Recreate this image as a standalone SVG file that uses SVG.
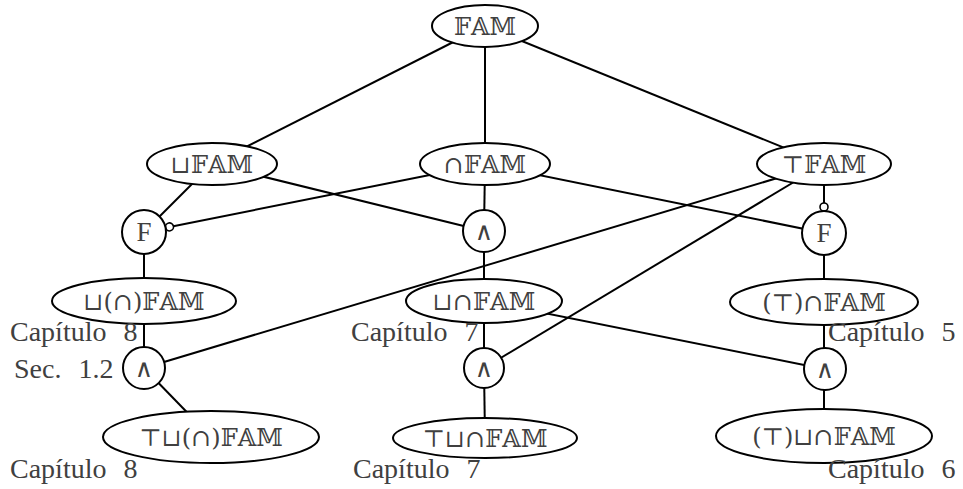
<svg xmlns="http://www.w3.org/2000/svg" width="963" height="489" viewBox="0 0 963 489">
<style>
.n ellipse, .n circle { fill: #fff; stroke: #000; stroke-width: 2; }
.lbl { font-family: "DejaVu Serif", "DejaVu Sans", serif; font-size: 24px; fill: #404040; text-anchor: middle; }
.f { font-family: "Liberation Serif", serif; font-size: 27px; }
.w { font-size: 25px; }
.cap { font-family: "Liberation Serif", serif; font-size: 28px; fill: #404040; word-spacing: 10px; }
.c line { stroke: #000; stroke-width: 2; fill: none; }
</style>
<defs>
<marker id="dot" markerUnits="userSpaceOnUse" markerWidth="12" markerHeight="12" refX="6" refY="6" orient="auto">
<circle cx="6" cy="6" r="4" fill="#fff" stroke="#000" stroke-width="1.6"/>
</marker>
</defs>
<g id="connectors" class="c">
<line x1="485" y1="26" x2="212" y2="164"/>
<line x1="485" y1="26" x2="485" y2="164"/>
<line x1="485" y1="26" x2="824" y2="164"/>
<line x1="212" y1="164" x2="144" y2="232"/>
<line x1="212" y1="164" x2="484" y2="231"/>
<line x1="485" y1="164" x2="169.5" y2="226.9" marker-end="url(#dot)"/>
<line x1="485" y1="164" x2="484" y2="231"/>
<line x1="485" y1="164" x2="824" y2="233"/>
<line x1="824" y1="164" x2="824" y2="207" marker-end="url(#dot)"/>
<line x1="824" y1="164" x2="144" y2="368"/>
<line x1="824" y1="164" x2="484" y2="368"/>
<line x1="144" y1="232" x2="144" y2="301"/>
<line x1="484" y1="231" x2="484" y2="301"/>
<line x1="824" y1="233" x2="824" y2="302"/>
<line x1="144" y1="301" x2="144" y2="368"/>
<line x1="484" y1="301" x2="484" y2="368"/>
<line x1="484" y1="301" x2="824" y2="369"/>
<line x1="824" y1="302" x2="824" y2="369"/>
<line x1="144" y1="368" x2="211" y2="437"/>
<line x1="484" y1="368" x2="485" y2="438"/>
<line x1="824" y1="369" x2="824" y2="436"/>
</g>
<g id="n-fam" class="n"><ellipse cx="485" cy="26" rx="53" ry="21"/><text class="lbl" x="485" y="35">𝔽𝔸𝕄</text></g>
<g id="n-sqcup-fam" class="n"><ellipse cx="212" cy="164" rx="65" ry="21"/><text class="lbl" x="212" y="173">⊔𝔽𝔸𝕄</text></g>
<g id="n-cap-fam" class="n"><ellipse cx="485" cy="164" rx="65" ry="21"/><text class="lbl" x="485" y="173">∩𝔽𝔸𝕄</text></g>
<g id="n-top-fam" class="n"><ellipse cx="824" cy="164" rx="67" ry="21"/><text class="lbl" x="824" y="173">⊤𝔽𝔸𝕄</text></g>
<g id="n-f1" class="n"><circle cx="144" cy="232" r="22"/><text class="lbl f" x="144" y="241">F</text></g>
<g id="n-w1" class="n"><circle cx="484" cy="231" r="21"/><text class="lbl w" x="484" y="240">∧</text></g>
<g id="n-f2" class="n"><circle cx="824" cy="233" r="22"/><text class="lbl f" x="824" y="242">F</text></g>
<g id="n-sqcup-paren-cap-fam" class="n"><ellipse cx="144" cy="301" rx="92" ry="23"/><text class="lbl" x="144" y="310">⊔(∩)𝔽𝔸𝕄</text></g>
<g id="n-sqcup-cap-fam" class="n"><ellipse cx="484" cy="301" rx="78" ry="22"/><text class="lbl" x="484" y="310">⊔∩𝔽𝔸𝕄</text></g>
<g id="n-paren-top-cap-fam" class="n"><ellipse cx="824" cy="302" rx="94" ry="23"/><text class="lbl" x="824" y="311">(⊤)∩𝔽𝔸𝕄</text></g>
<g id="n-w2" class="n"><circle cx="144" cy="368" r="21"/><text class="lbl w" x="144" y="377">∧</text></g>
<g id="n-w3" class="n"><circle cx="484" cy="368" r="20"/><text class="lbl w" x="484" y="377">∧</text></g>
<g id="n-w4" class="n"><circle cx="825" cy="369" r="21"/><text class="lbl w" x="825" y="378">∧</text></g>
<g id="n-top-sqcup-paren-cap-fam" class="n"><ellipse cx="211" cy="437" rx="108" ry="26"/><text class="lbl" x="211" y="446">⊤⊔(∩)𝔽𝔸𝕄</text></g>
<g id="n-top-sqcup-cap-fam" class="n"><ellipse cx="485" cy="438" rx="92" ry="20"/><text class="lbl" x="485" y="447">⊤⊔∩𝔽𝔸𝕄</text></g>
<g id="n-paren-top-sqcup-cap-fam" class="n"><ellipse cx="824" cy="436" rx="108" ry="27"/><text class="lbl" x="824" y="445">(⊤)⊔∩𝔽𝔸𝕄</text></g>
<g id="captions">
<text class="cap" x="10" y="341">Capítulo 8</text>
<text class="cap" x="14" y="378">Sec. 1.2</text>
<text class="cap" x="351" y="341">Capítulo 7</text>
<text class="cap" x="828" y="341">Capítulo 5</text>
<text class="cap" x="10" y="478">Capítulo 8</text>
<text class="cap" x="353" y="478">Capítulo 7</text>
<text class="cap" x="828" y="478">Capítulo 6</text>
</g>
</svg>
